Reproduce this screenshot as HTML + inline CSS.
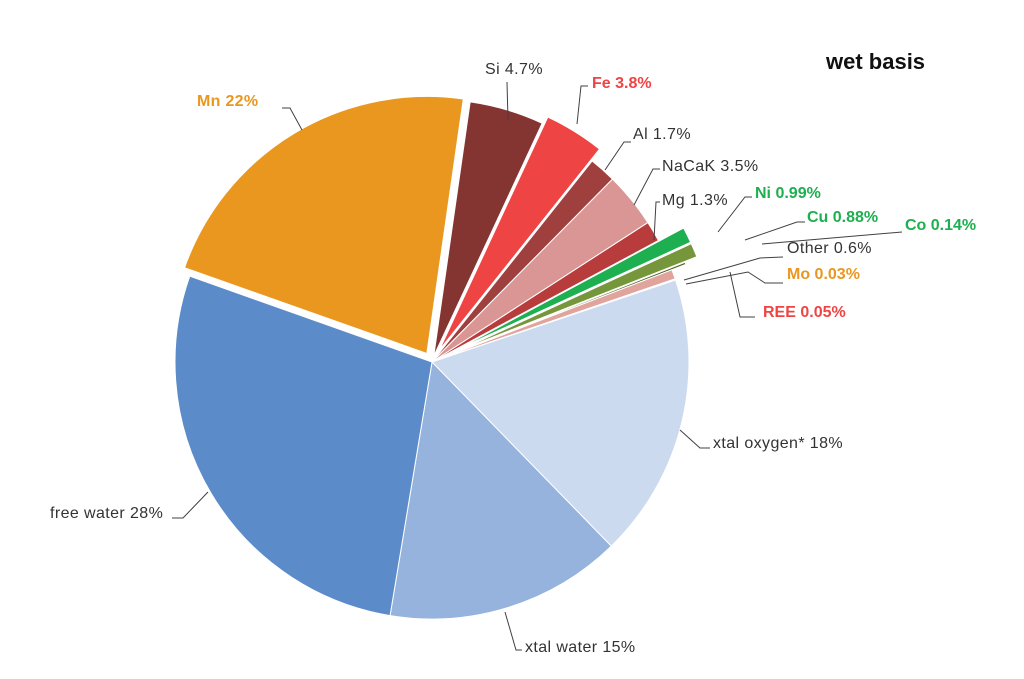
<!DOCTYPE html>
<html><head><meta charset="utf-8"><style>
html,body{margin:0;padding:0;background:#fff;}
svg{display:block;font-family:"Liberation Sans",sans-serif;}
</style></head><body>
<svg id="s" width="1024" height="679" viewBox="0 0 1024 679">
<g id="pie"></g>
<g stroke="#404040" stroke-width="1" fill="none">
<polyline points="282,108 290,108 302,130"/>
<polyline points="507,82 508,120"/>
<polyline points="588,86 581,86 577,124"/>
<polyline points="631,142 624,142 605,170"/>
<polyline points="660,169 653,169 634,205"/>
<polyline points="660,202 656,202 654,240"/>
<polyline points="752,197 745,197 718,232"/>
<polyline points="805,222 797,222 745,240"/>
<polyline points="902,232 762,244"/>
<polyline points="783,257 760,258 684,280"/>
<polyline points="783,283 765,283 748,272 686,284"/>
<polyline points="755,317 740,317 730,272"/>
<polyline points="710,448 700,448 680,430"/>
<polyline points="522,650 516,650 505,612"/>
<polyline points="172,518 183,518 208,492"/>
</g>
<g font-size="16" fill="#333" letter-spacing="0.4">
<text x="197" y="106" fill="#E9971F" font-weight="bold" letter-spacing="0.3">Mn 22%</text>
<text x="485" y="74">Si 4.7%</text>
<text x="592" y="88" fill="#EF4444" font-weight="bold" letter-spacing="0">Fe 3.8%</text>
<text x="633" y="139">Al 1.7%</text>
<text x="662" y="171">NaCaK 3.5%</text>
<text x="662" y="205">Mg 1.3%</text>
<text x="755" y="198" fill="#1DAF50" font-weight="bold" letter-spacing="0">Ni 0.99%</text>
<text x="807" y="222" fill="#1DAF50" font-weight="bold" letter-spacing="0">Cu 0.88%</text>
<text x="905" y="230" fill="#1DAF50" font-weight="bold" letter-spacing="0">Co 0.14%</text>
<text x="787" y="253">Other 0.6%</text>
<text x="787" y="279" fill="#E9971F" font-weight="bold" letter-spacing="0">Mo 0.03%</text>
<text x="763" y="317" fill="#EF4444" font-weight="bold" letter-spacing="0">REE 0.05%</text>
<text x="713" y="448">xtal oxygen* 18%</text>
<text x="525" y="652">xtal water 15%</text>
<text x="50" y="518">free water 28%</text>
<text x="826" y="69" font-size="22" font-weight="bold" fill="#111" letter-spacing="0">wet basis</text>
</g>
</svg>
<script>
var d=[[22,"#E9971F",10],[4.7,"#843532",6],[3.8,"#EF4444",14],[1.7,"#A0403E",0],[3.5,"#D99694",0],[1.3,"#B83C3C",0],[0.99,"#1DAF50",28],[0.88,"#76963C",28],[0.14,"#4F6228",15],[0.6,"#E0A49C",0],[0.03,"#E9971F",20],[0.05,"#E04040",45],[18,"#CCDAF0",0],[15,"#95B3DC",0],[28,"#5B8BC9",0]];
var tot=0;d.forEach(function(x){tot+=x[0]});
var cx=432,cy=362,r=257,a=289.5*Math.PI/180,g=document.getElementById("pie"),h="";
function p(t,R,ox,oy){return [(cx+ox+R*Math.sin(t)).toFixed(2),(cy+oy-R*Math.cos(t)).toFixed(2)];}
d.forEach(function(x){var s=x[0]/tot*2*Math.PI,m=a+s/2,ox=x[2]*Math.sin(m),oy=-x[2]*Math.cos(m);
var A=p(a,r,ox,oy),B=p(a+s,r,ox,oy);
h+='<path d="M'+(cx+ox)+','+(cy+oy)+'L'+A+'A'+r+','+r+' 0 '+(s>Math.PI?1:0)+' 1 '+B+'Z" fill="'+x[1]+'" stroke="#fff" stroke-width="1"/>';a+=s;});
g.innerHTML=h;
</script>
</body></html>
